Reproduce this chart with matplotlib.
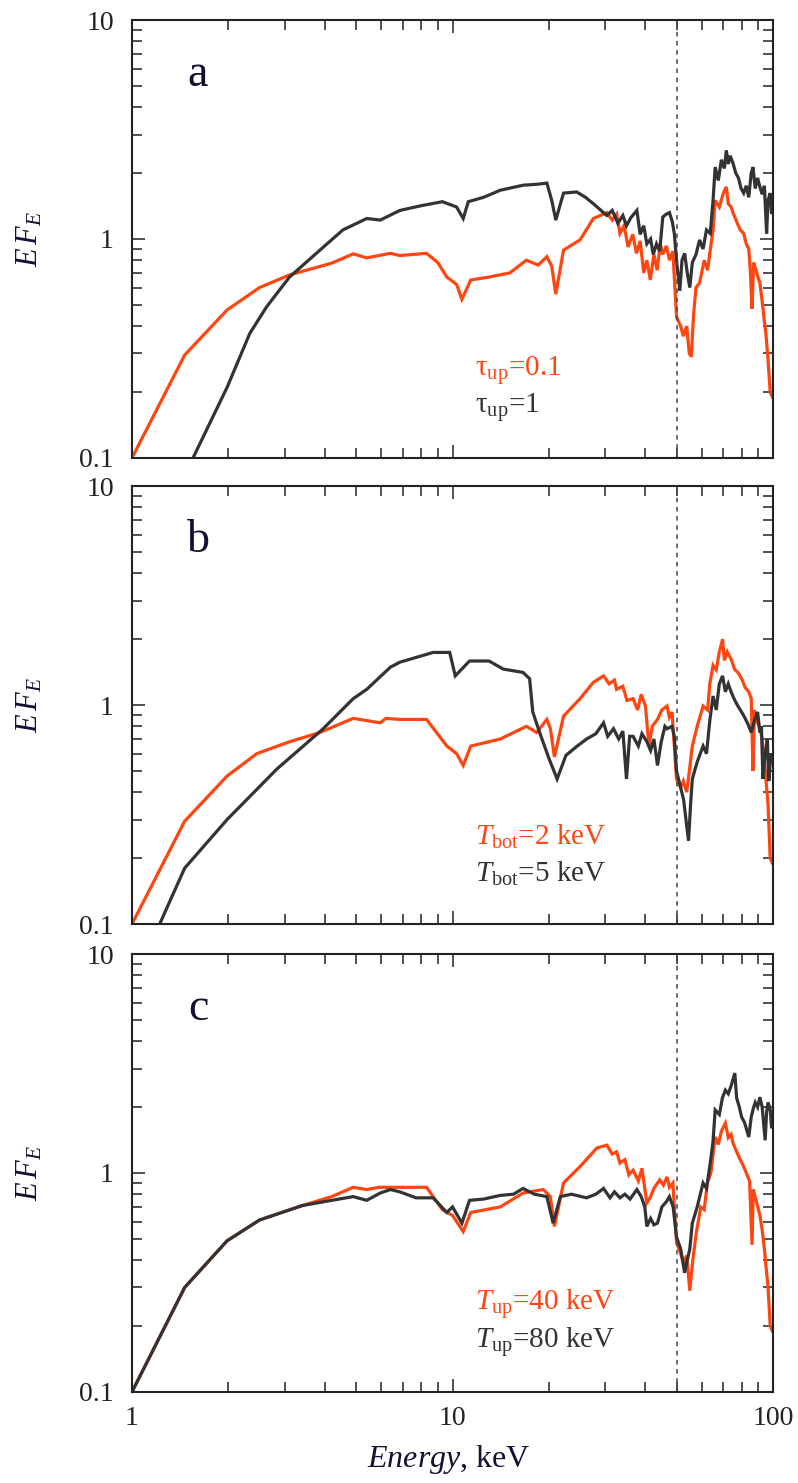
import matplotlib
matplotlib.use("Agg")
import matplotlib.pyplot as plt
from matplotlib.ticker import FixedLocator, NullFormatter

plt.rcParams['font.family'] = ['Liberation Serif', 'DejaVu Serif']
plt.rcParams['mathtext.fontset'] = 'custom'
plt.rcParams['mathtext.rm'] = 'Liberation Serif'
plt.rcParams['mathtext.it'] = 'Liberation Serif:italic'

RED = '#ff4510'
BLACK = '#333333'

# ---- panel a: tau_up = 0.1 (red) / 1 (black)
a_red_E = [1.0, 1.46, 1.98, 2.5, 3.1, 4.2, 4.9, 5.4, 6.4, 6.85, 8.3, 9.0, 9.6, 10.3, 10.7, 11.4,
           13.0, 15.1, 17.0, 18.5, 19.7, 20.4, 21.0, 22.2, 25.0, 27.5, 30.3,
           31.5, 32.5, 33.3, 34.3, 35.3, 36.5, 37.5, 38.5, 39.5, 40.4, 41.4, 42.5, 43.5, 44.5,
           45.3, 46.5, 47.5, 48.7, 50.0, 51.5, 52.5, 53.8, 54.8, 55.6, 56.5, 57.5, 59.0, 61.0,
           62.5, 63.7, 65.0, 66.0, 68.0, 70.0, 71.5, 72.5, 74.0, 75.0, 77.0, 79.0, 81.0, 82.5,
           84.0, 85.0, 86.0, 87.0, 88.5, 90.0, 91.0, 92.5, 94.0, 95.0, 96.5, 98.0, 99.5]
a_red_F = [0.1, 0.295, 0.474, 0.60, 0.685, 0.776, 0.855, 0.82, 0.86, 0.84, 0.86, 0.78, 0.67, 0.62, 0.53, 0.65,
           0.67, 0.70, 0.80, 0.76, 0.83, 0.75, 0.56, 0.89, 0.99, 1.24, 1.32,
           1.22, 1.30, 1.06, 1.15, 0.92, 1.05, 0.86, 0.98, 0.70, 0.80, 0.65, 0.85, 0.72, 0.95,
           0.85, 0.93, 0.80, 0.88, 0.44, 0.40, 0.36, 0.40, 0.30, 0.29, 0.45, 0.60, 0.63, 0.80,
           0.72, 0.89, 1.10, 1.50, 1.40, 1.62, 1.73, 1.45, 1.40, 1.32, 1.20, 1.10, 1.06, 0.95,
           0.90, 0.70, 0.48, 0.78, 0.72, 0.66, 0.63, 0.52, 0.42, 0.37, 0.28, 0.20, 0.19]

a_blk_E = [1.55, 1.98, 2.33, 2.63, 3.1, 3.86, 4.55, 5.4, 5.95, 6.85, 8.0, 9.3, 10.3, 10.8, 11.2, 12.5,
           14.1, 16.6, 18.5, 19.7, 20.4, 21.0, 22.2, 24.4, 26.0, 27.5, 30.3,
           31.5, 32.8, 34.0, 34.9, 36.0, 37.6, 38.5, 39.5, 40.4, 41.5, 42.3, 43.3, 44.3, 45.3,
           46.5, 47.5, 48.5, 49.2, 50.2, 51.2, 52.0, 53.0, 54.0, 55.0, 56.0, 57.5, 59.0, 60.5,
           62.0, 63.7, 65.0, 66.0, 67.5, 69.0, 70.5, 71.5, 72.5, 73.5, 75.0, 76.5, 78.0, 79.5,
           81.0, 82.5, 84.0, 85.5, 86.6, 88.0, 89.5, 91.0, 92.5, 94.0, 95.5, 96.5, 98.0, 99.0, 100.0]
a_blk_F = [0.1, 0.21, 0.37, 0.49, 0.67, 0.89, 1.10, 1.24, 1.22, 1.35, 1.42, 1.48, 1.40, 1.24, 1.48, 1.55,
           1.67, 1.76, 1.78, 1.80, 1.50, 1.22, 1.62, 1.64, 1.55, 1.45, 1.28,
           1.35, 1.18, 1.28, 1.15, 1.25, 1.35, 1.05, 1.15, 0.95, 1.00, 0.85, 0.95, 0.88, 1.26,
           1.30, 1.32, 1.20, 1.06, 0.75, 0.58, 0.80, 0.86, 0.70, 0.60, 0.78, 0.85, 0.99, 0.90,
           1.10, 1.06, 1.50, 2.13, 1.85, 2.30, 2.10, 2.54, 2.20, 2.40, 2.22, 2.00, 1.90, 1.70,
           1.62, 1.75, 1.55, 2.00, 2.13, 1.70, 1.90, 1.73, 1.60, 1.75, 1.06, 1.50, 1.62, 1.30, 1.50]

# ---- panel b: T_bot = 2 keV (red) / 5 keV (black)
b_red_E = [1.0, 1.46, 1.98, 2.45, 3.1, 3.86, 4.9, 5.95, 6.2, 6.85, 8.3, 9.6, 10.3, 10.8, 11.4, 14.1,
           17.0, 18.3, 19.7, 20.2, 20.8, 22.2, 25.0, 27.5, 29.6,
           30.8, 32.0, 32.5, 34.0, 35.0, 36.6, 37.8, 38.8, 40.0, 41.0, 42.0, 43.6, 45.0, 46.7,
           47.5, 48.4, 50.0, 51.5, 52.5, 53.8, 55.0, 56.0, 58.0, 60.5, 62.5, 63.5, 65.0, 66.5,
           68.0, 69.6, 70.5, 72.0, 74.0, 76.0, 78.0, 79.8, 82.0, 84.0, 85.5, 86.6, 87.5, 89.0,
           91.0, 92.5, 94.0, 95.0, 96.5, 98.0, 99.5]
b_red_F = [0.1, 0.295, 0.474, 0.60, 0.68, 0.75, 0.87, 0.83, 0.87, 0.86, 0.86, 0.65, 0.60, 0.53, 0.65, 0.70,
           0.80, 0.75, 0.86, 0.78, 0.58, 0.89, 1.07, 1.27, 1.36,
           1.25, 1.30, 1.18, 1.22, 1.05, 1.07, 0.95, 1.12, 0.99, 0.65, 0.80, 0.86, 0.95, 0.99,
           0.88, 0.93, 0.46, 0.42, 0.45, 0.40, 0.52, 0.65, 0.80, 0.99, 0.95, 1.25, 1.52, 1.45,
           1.75, 2.00, 1.60, 1.75, 1.62, 1.45, 1.40, 1.32, 1.20, 1.15, 1.07, 0.50, 0.95, 0.85,
           0.78, 0.70, 0.55, 0.46, 0.35, 0.20, 0.19]

b_blk_E = [1.22, 1.46, 1.98, 2.83, 3.95, 4.9, 5.4, 6.4, 6.85, 8.7, 9.8, 10.2, 11.3, 13.0, 14.4, 16.6,
           17.4, 17.8, 18.7, 20.0, 21.2, 22.6, 24.5, 26.2, 28.0, 29.6,
           30.5, 31.8, 33.0, 34.0, 34.9, 35.7, 36.6, 38.0, 39.0, 40.4, 41.5, 42.5, 43.6, 44.8,
           46.0, 46.7, 48.4, 49.2, 50.0, 51.5, 52.6, 53.5, 54.5, 55.3, 56.0, 58.0, 60.5, 62.0,
           63.5, 65.0, 66.5, 68.0, 69.6, 71.0, 72.5, 74.0, 76.0, 78.0, 79.8, 81.5, 83.5, 85.5,
           87.5, 89.5, 91.0, 92.0, 93.0, 94.5, 96.0, 97.0, 98.5, 100.0]
b_blk_F = [0.1, 0.18, 0.30, 0.51, 0.78, 1.07, 1.18, 1.49, 1.57, 1.74, 1.74, 1.36, 1.59, 1.59, 1.46, 1.41,
           1.32, 0.93, 0.75, 0.57, 0.46, 0.59, 0.65, 0.70, 0.74, 0.83,
           0.72, 0.78, 0.70, 0.76, 0.46, 0.72, 0.72, 0.65, 0.74, 0.68, 0.62, 0.70, 0.53, 0.68,
           0.80, 0.78, 0.80, 0.72, 0.50, 0.42, 0.37, 0.30, 0.24, 0.35, 0.46, 0.55, 0.65, 0.60,
           0.85, 1.10, 0.95, 1.25, 1.36, 1.15, 1.25, 1.15, 1.05, 0.98, 0.93, 0.88, 0.82, 0.75,
           0.85, 0.93, 0.75, 0.80, 0.46, 0.60, 0.70, 0.45, 0.60, 0.55]

# ---- panel c: T_up = 40 keV (red) / 80 keV (black)
c_red_E = [1.0, 1.46, 1.98, 2.5, 3.4, 4.2, 4.9, 5.4, 5.9, 6.4, 6.85, 8.3, 9.3, 10.0, 10.8, 11.4,
           14.1, 16.6, 19.2, 20.2, 20.8, 22.2, 25.0, 28.2, 30.3,
           31.5, 32.5, 33.3, 34.5, 35.5, 36.6, 38.0, 39.0, 40.4, 41.5, 42.5, 44.3, 45.5, 46.7,
           47.5, 48.7, 50.0, 51.2, 52.6, 53.8, 55.0, 56.2, 57.6, 59.5, 61.0, 62.4, 64.0, 66.0,
           67.5, 69.0, 71.0, 72.5, 74.0, 75.0, 77.0, 79.0, 81.0, 83.0, 84.5, 86.0, 86.8, 88.5,
           91.0, 92.5, 94.0, 95.0, 96.5, 98.0, 99.5]
c_red_F = [0.1, 0.30, 0.49, 0.61, 0.71, 0.78, 0.86, 0.84, 0.86, 0.86, 0.86, 0.86, 0.68, 0.64, 0.54, 0.66,
           0.70, 0.81, 0.84, 0.78, 0.57, 0.90, 1.07, 1.30, 1.34,
           1.22, 1.25, 1.11, 1.15, 0.98, 1.03, 0.92, 1.05, 0.73, 0.78, 0.85, 0.93, 0.88, 0.96,
           0.86, 0.90, 0.48, 0.44, 0.39, 0.42, 0.29, 0.40, 0.53, 0.70, 0.68, 0.90, 1.00, 1.46,
           1.35, 1.55, 1.69, 1.45, 1.50, 1.37, 1.25, 1.15, 1.07, 0.98, 0.92, 0.47, 0.84, 0.75,
           0.64, 0.55, 0.45, 0.38, 0.30, 0.20, 0.19]

c_blk_E = [1.0, 1.46, 1.98, 2.5, 3.4, 4.2, 4.9, 5.4, 5.95, 6.4, 6.85, 7.7, 8.7, 9.6, 10.0, 10.7, 11.3,
           12.5, 14.1, 15.5, 16.6, 18.0, 19.7, 20.6, 21.7, 23.5, 26.2, 28.0, 29.6,
           31.0, 32.0, 33.3, 34.5, 35.8, 37.6, 38.8, 39.8, 40.4, 41.5, 42.5, 43.6, 45.0, 46.5,
           47.5, 48.8, 50.0, 51.5, 53.0, 54.0, 55.0, 56.0, 58.0, 60.5, 62.0, 63.7, 65.0, 66.0,
           68.0, 69.5, 71.0, 72.5, 74.0, 76.0, 77.0, 78.5, 79.8, 81.5, 83.0, 84.0, 85.5, 87.0,
           88.0, 89.5, 91.0, 92.5, 94.5, 95.5, 96.5, 98.0, 99.0, 100.0]
c_blk_F = [0.1, 0.30, 0.49, 0.61, 0.71, 0.75, 0.78, 0.75, 0.81, 0.84, 0.82, 0.77, 0.77, 0.66, 0.70, 0.59, 0.75,
           0.76, 0.79, 0.80, 0.85, 0.80, 0.78, 0.59, 0.78, 0.80, 0.77, 0.80, 0.85,
           0.77, 0.82, 0.77, 0.80, 0.76, 0.84, 0.78, 0.70, 0.57, 0.62, 0.58, 0.59, 0.70, 0.74,
           0.78, 0.70, 0.51, 0.45, 0.35, 0.40, 0.45, 0.59, 0.70, 0.90, 0.85, 1.11, 1.40, 1.94,
           1.85, 2.20, 2.39, 2.30, 2.50, 2.86, 2.20, 2.00, 1.80, 1.70, 1.55, 1.46, 1.80, 2.00,
           2.10, 2.00, 2.22, 2.00, 1.41, 1.90, 2.10, 1.94, 1.60, 1.69]

panels = [
    ('a', (a_red_E, a_red_F), (a_blk_E, a_blk_F),
     (r'τ$_{\rm up}$=0.1', r'τ$_{\rm up}$=1')),
    ('b', (b_red_E, b_red_F), (b_blk_E, b_blk_F),
     (r'$T_{\rm bot}$=2 keV', r'$T_{\rm bot}$=5 keV')),
    ('c', (c_red_E, c_red_F), (c_blk_E, c_blk_F),
     (r'$T_{\rm up}$=40 keV', r'$T_{\rm up}$=80 keV')),
]

fig = plt.figure(figsize=(7.98, 14.83), dpi=100)
left, width, height = 0.1654, 0.8033, 0.2953
bottoms = [0.6912, 0.3769, 0.0614]

for i, (letter, red, blk, labels) in enumerate(panels):
    ax = fig.add_axes([left, bottoms[i], width, height])
    ax.plot(red[0], red[1], color=RED, lw=2.3, solid_joinstyle='miter')
    ax.plot(blk[0], blk[1], color=BLACK, lw=2.3, solid_joinstyle='miter')
    ax.axvline(50, color='#444444', lw=1.1, ls=(0, (3, 3)))
    ax.set_xscale('log')
    ax.set_yscale('log')
    ax.set_xlim(1, 100)
    ax.set_ylim(0.1, 10)

    ax.yaxis.set_major_locator(FixedLocator([0.1, 1, 10]))
    ax.set_yticklabels(['0.1', '1', '10'])
    ax.xaxis.set_major_locator(FixedLocator([1, 10, 100]))
    if i == 2:
        ax.set_xticklabels(['1', '10', '100'])
    else:
        ax.set_xticklabels([])
    ax.xaxis.set_minor_formatter(NullFormatter())
    ax.yaxis.set_minor_formatter(NullFormatter())

    ax.tick_params(which='both', direction='in', top=True, right=True, width=1.1,
                   labelsize=20, colors='#222222')
    ax.tick_params(which='major', length=9.5)
    ax.tick_params(which='minor', length=7.5)
    ax.tick_params(axis='y', pad=13)
    ax.tick_params(axis='x', pad=10)
    for s in ax.spines.values():
        s.set_linewidth(1.5)
        s.set_color('#222222')

    ax.text(0.103, 0.875, letter, transform=ax.transAxes, fontsize=33,
            ha='center', va='center', color='#111133')
    ax.text(0.535, 0.20, labels[0], transform=ax.transAxes, fontsize=21,
            color=RED, ha='left', va='center')
    ax.text(0.535, 0.115, labels[1], transform=ax.transAxes, fontsize=21,
            color=BLACK, ha='left', va='center')

    fig.text(0.037, bottoms[i] + height / 2, r'$E\,F_E$', rotation=90,
             fontsize=22, ha='center', va='center', color='#111133')

fig.text(0.563, 0.016, r'$Energy$, keV', fontsize=23, ha='center', va='center',
         color='#111133')

fig.savefig('out.png', dpi=100)
